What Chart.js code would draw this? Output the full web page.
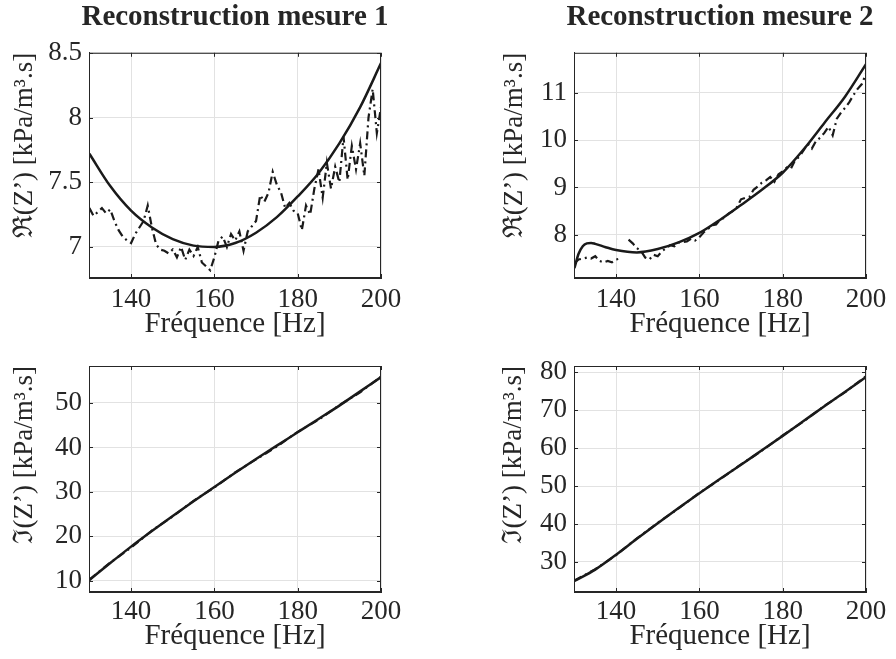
<!DOCTYPE html>
<html>
<head>
<meta charset="utf-8">
<script src="https://cdn.jsdelivr.net/npm/chart.js@4.4.1/dist/chart.umd.min.js"></script>
<style>
  html, body { margin: 0; padding: 0; background: #fff; overflow: hidden; }
  body { width: 896px; height: 659px; position: relative; }
  canvas { position: absolute; }
</style>
</head>
<body>
<canvas id="reM1" width="470" height="350" style="left:0px;top:0px"></canvas>
<canvas id="reM2" width="560" height="350" style="left:440px;top:0px"></canvas>
<canvas id="imM1" width="470" height="329" style="left:0px;top:330px"></canvas>
<canvas id="imM2" width="560" height="329" style="left:440px;top:330px"></canvas>
<script>
// frequency ticks, same on every subplot
const xTicks = [140, 160, 180, 200];

// measured points every Hz
const freqMeas = [130, 131, 132, 133, 134, 135, 136, 137, 138, 139,
  140, 141, 142, 143, 144, 145, 146, 147, 148, 149,
  150, 151, 152, 153, 154, 155, 156, 157, 158, 159,
  160, 161, 162, 163, 164, 165, 166, 167, 168, 169,
  170, 171, 172, 173, 174, 175, 176, 177, 178, 179,
  180, 181, 182, 183, 184, 185, 186, 187, 188, 189,
  190, 191, 192, 193, 194, 195, 196, 197, 198, 199, 200];

// model curves
const freqModel = [130, 135, 140, 145, 150, 155, 160, 165, 170, 175, 180, 185, 190, 195, 200];
const freqModel2 = [130, 131, 132, 133, 134, 135, 137.5, 140, 145, 150, 155, 160, 165, 170, 175, 180, 185, 190, 195, 200];

// Reconstruction mesure 1, real part
const reModel1 = [7.72, 7.47, 7.28, 7.15, 7.06, 7.01, 7.00, 7.03, 7.11, 7.23, 7.39, 7.57, 7.80, 8.08, 8.42];
const reMeas1 = [7.30, 7.24, 7.27, 7.30, 7.26, 7.29, 7.20, 7.13, 7.08, 7.05,
  7.03, 7.10, 7.15, 7.20, 7.32, 7.15, 7.02, 6.98, 6.97, 6.95,
  6.98, 6.92, 7.00, 6.90, 6.98, 6.93, 7.00, 6.88, 6.85, 6.82,
  6.92, 7.05, 7.08, 7.00, 7.10, 7.05, 7.12, 6.97, 7.12, 7.16,
  7.20, 7.40, 7.35, 7.42, 7.58, 7.48, 7.42, 7.30, 7.34, 7.28,
  7.26, 7.13, 7.32, 7.25, 7.45, 7.60, 7.38, 7.65, 7.45, 7.62,
  7.50, 7.85, 7.52, 7.78, 7.60, 7.80, 7.55, 8.00, 8.22, 7.88, 8.08];

// Reconstruction mesure 2, real part
const reModel2 = [7.30, 7.60, 7.76, 7.82, 7.83, 7.81, 7.74, 7.68, 7.63, 7.70, 7.84, 8.04, 8.32, 8.63, 8.95, 9.31, 9.80, 10.36, 10.92, 11.60];
const reMeas2 = [7.40, 7.48, 7.50, 7.52, 7.50, 7.55, 7.45, 7.42, 7.45, 7.42,
  7.48, 7.50, null, 7.90, 7.82, 7.72, 7.66, 7.52, 7.48, 7.58,
  7.55, 7.65, 7.72, 7.78, 7.76, 7.84, 7.85, 7.86, 7.92, 7.88,
  7.95, 8.05, 8.12, 8.20, 8.22, 8.32, 8.36, 8.45, 8.50, 8.58,
  8.75, 8.78, 8.80, 8.95, 9.02, 9.10, 9.15, 9.22, 9.12, 9.28,
  9.34, 9.42, 9.40, 9.58, 9.65, 9.78, 9.92, 9.82, 9.98, 10.05,
  10.15, 10.28, 10.10, 10.45, 10.58, 10.68, 10.80, 10.95, 11.08, 11.18, 11.40];

// imaginary parts
const imModel1 = [10.2, 14.0, 17.7, 21.2, 24.6, 27.9, 31.1, 34.3, 37.4, 40.4, 43.4, 46.4, 49.4, 52.6, 55.8];
const imMeas1 = [10.3, 14.1, 17.5, 21.3, 24.5, 28.0, 31.0, 34.4, 37.3, 40.2, 43.5, 46.2, 49.5, 52.4, 55.9];
const imModel2 = [25.0, 28.0, 31.9, 36.1, 40.2, 44.2, 48.1, 51.9, 55.6, 59.4, 63.2, 67.1, 71.0, 74.8, 78.7];
const imMeas2 = [25.1, 28.1, 31.8, 36.2, 40.3, 44.1, 48.2, 51.8, 55.7, 59.3, 63.3, 67.0, 71.1, 74.7, 78.9];

const yTicksRe1 = [7, 7.5, 8, 8.5];
const yTicksRe2 = [8, 9, 10, 11];
const yTicksIm1 = [10, 20, 30, 40, 50];
const yTicksIm2 = [30, 40, 50, 60, 70, 80];

const ink = '#1a1a1a';
const axisInk = '#262626';
const serif = '"Liberation Serif", "Times New Roman", serif';

const pairs = (xs, ys) => xs.map((v, i) => ({ x: v, y: ys[i] }));

// box all round + inward tick marks, like matlab
const frame = {
  id: 'frame',
  afterDraw(chart) {
    const { ctx, chartArea: a, scales: { x, y } } = chart;
    ctx.save();
    ctx.strokeStyle = axisInk;
    ctx.lineWidth = 1;
    ctx.strokeRect(a.left + 0.5, a.top + 0.5, a.width - 1, a.height - 1);
    ctx.beginPath();
    x.ticks.forEach(t => {
      const p = Math.round(x.getPixelForValue(t.value)) + 0.5;
      ctx.moveTo(p, a.bottom); ctx.lineTo(p, a.bottom - 4);
      ctx.moveTo(p, a.top); ctx.lineTo(p, a.top + 4);
    });
    y.ticks.forEach(t => {
      const p = Math.round(y.getPixelForValue(t.value)) + 0.5;
      ctx.moveTo(a.left, p); ctx.lineTo(a.left + 4, p);
      ctx.moveTo(a.right, p); ctx.lineTo(a.right - 4, p);
    });
    ctx.stroke();
    ctx.restore();
  }
};

function makeChart(id, c) {
  new Chart(document.getElementById(id), {
    type: 'line',
    data: {
      datasets: [
        { data: pairs(c.fm, c.model), borderColor: ink, borderWidth: 2.5, pointRadius: 0, cubicInterpolationMode: 'monotone' },
        { data: pairs(c.fx, c.meas), borderColor: ink, borderWidth: 2.2, borderDash: [8, 4, 2, 4], pointRadius: 0, tension: 0, spanGaps: false }
      ]
    },
    options: {
      responsive: false,
      animation: false,
      layout: { padding: { top: c.padTop, right: 0, left: 0, bottom: 0 } },
      plugins: {
        legend: { display: false },
        tooltip: { enabled: false },
        title: {
          display: !!c.title,
          text: c.title || '',
          color: axisInk,
          font: { family: serif, size: 29, weight: 'bold' },
          padding: { top: 0, bottom: 18 }
        }
      },
      scales: {
        x: {
          type: 'linear', min: 129.9, max: 200,
          afterBuildTicks: s => { s.ticks = xTicks.map(v => ({ value: v })); },
          afterFit: s => { s.height = c.xh; },
          grid: { color: '#e2e2e2', drawTicks: false },
          border: { color: axisInk },
          ticks: { color: axisInk, padding: c.xPad, maxRotation: 0, font: { family: serif, size: 27 }, callback: v => String(v) },
          title: { display: true, text: 'Fréquence [Hz]', color: axisInk, font: { family: serif, size: 29 }, padding: { top: 0, bottom: c.xtPad } }
        },
        y: {
          min: c.ymin, max: c.ymax,
          afterBuildTicks: s => { s.ticks = c.yTicks.map(v => ({ value: v })); },
          afterFit: s => { s.width = c.yw; },
          grid: { color: '#e2e2e2', drawTicks: false },
          border: { color: axisInk },
          ticks: { color: axisInk, padding: 7, font: { family: serif, size: 27 }, callback: v => String(v) },
          title: { display: true, text: c.ylabel, align: 'end', color: axisInk, font: { family: serif, size: 27 }, padding: { top: c.ytPad, bottom: 0 } }
        },
        // empty right-hand margin so the title centres over the plot box
        side: {
          position: 'right',
          afterFit: s => { s.width = c.yw; },
          grid: { display: false },
          border: { display: false },
          ticks: { display: false }
        }
      }
    },
    plugins: [frame]
  });
}

makeChart('reM1', {
  title: 'Reconstruction mesure 1', fm: freqModel, model: reModel1, fx: freqMeas, meas: reMeas1,
  ymin: 6.76, ymax: 8.5, yTicks: yTicksRe1, ylabel: 'ℜ(Z’) [kPa/m³.s]',
  padTop: 0, yw: 89, xh: 72, xPad: 6, xtPad: 8.6, ytPad: 8.8
});
makeChart('reM2', {
  title: 'Reconstruction mesure 2', fm: freqModel2, model: reModel2, fx: freqMeas, meas: reMeas2,
  ymin: 7.09, ymax: 11.84, yTicks: yTicksRe2, ylabel: 'ℜ(Z’) [kPa/m³.s]',
  padTop: 0, yw: 134, xh: 72, xPad: 6, xtPad: 8.6, ytPad: 59
});
makeChart('imM1', {
  fm: freqModel, model: imModel1, fx: freqModel, meas: imMeas1,
  ymin: 7.5, ymax: 58.3, yTicks: yTicksIm1, ylabel: 'ℑ(Z’) [kPa/m³.s]',
  padTop: 36, yw: 89, xh: 67, xPad: 4, xtPad: 5.6, ytPad: 8.8
});
makeChart('imM2', {
  fm: freqModel, model: imModel2, fx: freqModel, meas: imMeas2,
  ymin: 22.1, ymax: 81.6, yTicks: yTicksIm2, ylabel: 'ℑ(Z’) [kPa/m³.s]',
  padTop: 36, yw: 134, xh: 67, xPad: 4, xtPad: 5.6, ytPad: 58
});
</script>
</body>
</html>
